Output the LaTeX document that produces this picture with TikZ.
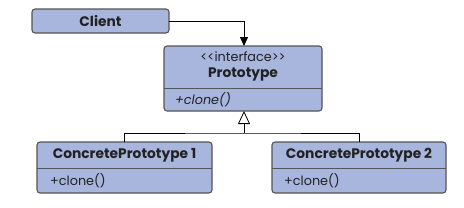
\documentclass[tikz,border=0pt]{standalone}
\usepackage{fontspec}
\setmainfont{Poppins}
\usetikzlibrary{arrows.meta,positioning}
\definecolor{boxfill}{HTML}{A8B5DC}
\definecolor{boxline}{HTML}{555555}
\definecolor{txt}{HTML}{222222}
\tikzset{
  umlbox/.style={draw=boxline, line width=1.1pt, fill=boxfill, rounded corners=3pt},
  lbl/.style={text=txt, inner sep=0pt, font=\fontsize{12.8}{14}\selectfont},
  blbl/.style={text=txt, inner sep=0pt, font=\fontsize{13.8}{15}\bfseries\selectfont},
  conn/.style={draw=black, line width=0.8pt},
}
\begin{document}
\begin{tikzpicture}[x=1pt,y=-1pt]
\useasboundingbox (0,0) rectangle (464,207);
% Client
\draw[umlbox] (32,9) rectangle (169,33);
\node[blbl] (client) at (100.5,21) {Client};
\coordinate (clientR) at (169,21);
% Prototype
\draw[umlbox] (164,46) rectangle (322,111);
\draw[boxline, line width=0.8pt] (164,88) -- (322,88);
\node[lbl] (stereo) at (243,57) {<\kern0pt<interface>\kern0pt>};
\node[blbl] (proto) at (243,74) {Prototype};
\node[lbl, anchor=west] (pclone) at (175,100) {\itshape +clone()};
\coordinate (protoT) at (244,46);
\coordinate (protoB) at (244,111);
% Concrete 1
\draw[umlbox] (37,142) rectangle (212,193);
\draw[boxline, line width=0.8pt] (37,168) -- (212,168);
\node[blbl] (c1) at (124.5,155) {ConcretePrototype 1};
\node[lbl, anchor=west] (c1clone) at (50,180.5) {+clone()};
\coordinate (c1T) at (124,142);
% Concrete 2
\draw[umlbox] (272,142) rectangle (446,193);
\draw[boxline, line width=0.8pt] (272,168) -- (446,168);
\node[blbl] (c2) at (359,155) {ConcretePrototype 2};
\node[lbl, anchor=west] (c2clone) at (284,180.5) {+clone()};
\coordinate (c2T) at (359,142);
% connectors
\draw[conn, -{Triangle[length=9pt,width=8pt]}] (clientR) -| (protoT);
\coordinate (junc) at (244,133);
\draw[conn, -{Triangle[open,length=13pt,width=12pt,fill=white]}] (junc) -- (protoB);
\draw[conn] (c1T) |- (junc) -| (c2T);
\end{tikzpicture}
\end{document}
